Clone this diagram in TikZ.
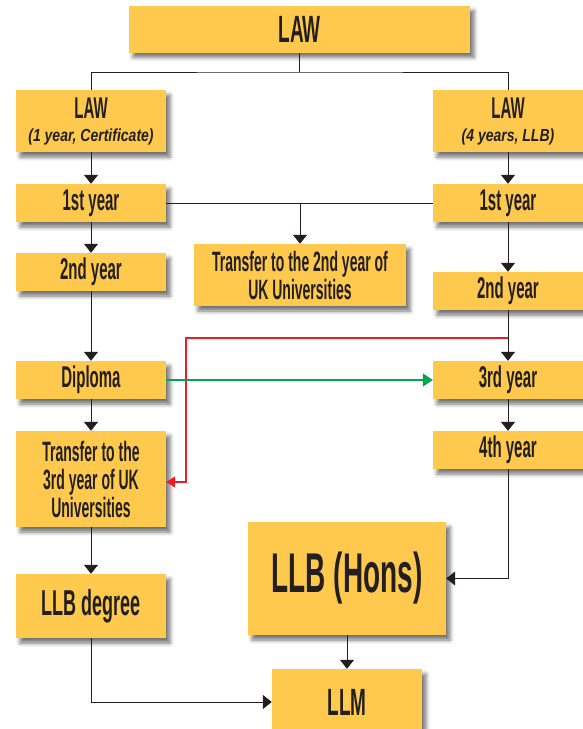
\documentclass[tikz,border=0pt]{standalone}
\usepackage{fontspec}
\usetikzlibrary{arrows.meta,shadows.blur}
\newfontfamily\cond{Liberation Sans}[FakeStretch=0.5]
\newfontfamily\subf{Liberation Sans}[FakeStretch=0.8]
\definecolor{boxyellow}{RGB}{254,201,76}
\definecolor{ink}{RGB}{35,31,32}
\definecolor{redline}{RGB}{237,28,36}
\definecolor{greenline}{RGB}{0,166,81}
\tikzset{
  box/.style={rectangle, fill=boxyellow, text=ink, inner sep=0pt, align=center,
    font=\cond\bfseries\fontsize{30}{28}\selectfont,
    blur shadow={shadow xshift=4pt, shadow yshift=-5pt, shadow blur radius=4pt, shadow opacity=55}},
  conn/.style={draw=ink, line width=1pt},
  arr/.style={conn, -{Triangle[width=14pt,length=9pt]}},
  redarr/.style={draw=redline, line width=1.3pt, -{Triangle[width=11pt,length=9pt]}},
  greenarr/.style={draw=greenline, line width=1.3pt, -{Triangle[width=13pt,length=10pt]}}
}
\newcommand{\subtxt}[1]{{\subf\bfseries\itshape\fontsize{17.5}{18}\selectfont #1}}
\begin{document}
\begin{tikzpicture}[x=1pt,y=-1pt]
\useasboundingbox (0,0) rectangle (582,729);
% nodes
\node[box, minimum width=341pt, minimum height=47pt, font=\cond\bfseries\fontsize{38}{40}\selectfont] (top) at (299.5,29) {LAW};
\node[box, minimum width=150pt, minimum height=62pt] (lawL) at (91,121) {LAW\\[-5pt]\subtxt{(1 year, Certificate)}};
\node[box, minimum width=150pt, minimum height=62pt] (lawR) at (508,121) {LAW\\[-5pt]\subtxt{(4 years, LLB)}};
\node[box, minimum width=150pt, minimum height=38pt] (y1L) at (91,203) {1st year};
\node[box, minimum width=150pt, minimum height=38pt] (y1R) at (508,203) {1st year};
\node[box, minimum width=212pt, minimum height=62pt, font=\cond\bfseries\fontsize{28}{28}\selectfont] (tr2) at (300,275) {Transfer to the 2nd year of\\UK Universities};
\node[box, minimum width=150pt, minimum height=38pt] (y2L) at (91,272) {2nd year};
\node[box, minimum width=150pt, minimum height=38pt] (y2R) at (508,291) {2nd year};
\node[box, minimum width=150pt, minimum height=38pt] (dip) at (91,380) {Diploma};
\node[box, minimum width=150pt, minimum height=38pt] (y3R) at (508,380) {3rd year};
\node[box, minimum width=150pt, minimum height=96pt, font=\cond\bfseries\fontsize{28}{28}\selectfont] (tr3) at (91,479) {Transfer to the\\3rd year of UK\\Universities};
\node[box, minimum width=150pt, minimum height=38pt] (y4R) at (508,450) {4th year};
\node[box, minimum width=150pt, minimum height=64pt, font=\cond\bfseries\fontsize{36}{38}\selectfont] (deg) at (91,606) {LLB degree};
\node[box, minimum width=198pt, minimum height=113pt, font=\cond\bfseries\fontsize{56}{58}\selectfont] (hons) at (347,578.5) {LLB (Hons)};
\node[box, minimum width=150pt, minimum height=66pt, font=\cond\bfseries\fontsize{38}{40}\selectfont] (llm) at (347,702) {LLM};
% connectors
\coordinate (j1) at (299.5,72);
\draw[conn] (top.south) -- (j1);
\draw[conn] (lawL.north) |- (j1) -| (lawR.north);
\draw[arr] (lawL) -- (y1L);
\draw[arr] (lawR) -- (y1R);
\draw[conn] (y1L.east) -- (y1R.west);
\coordinate (j2) at (300,203);
\draw[arr] (j2) -- (tr2.north);
\draw[arr] (y1L) -- (y2L);
\draw[arr] (y2L) -- (dip);
\draw[arr] (dip) -- (tr3);
\draw[arr] (tr3) -- (deg);
\draw[arr] (y1R) -- (y2R);
\draw[arr] (y2R) -- (y3R);
\draw[arr] (y3R) -- (y4R);
\coordinate (r1) at (508,338);
\coordinate (r2) at (186,338);
\coordinate (r3) at (186,482);
\draw[redarr] (r1) -- (r2) -- (r3) -- (r3 -| tr3.east);
\draw[greenarr] (dip.east) -- (y3R.west);
\draw[arr] (y4R.south) |- (hons.east);
\draw[arr] (hons) -- (llm);
\draw[arr] (deg.south) |- (llm.west);
\end{tikzpicture}
\end{document}
